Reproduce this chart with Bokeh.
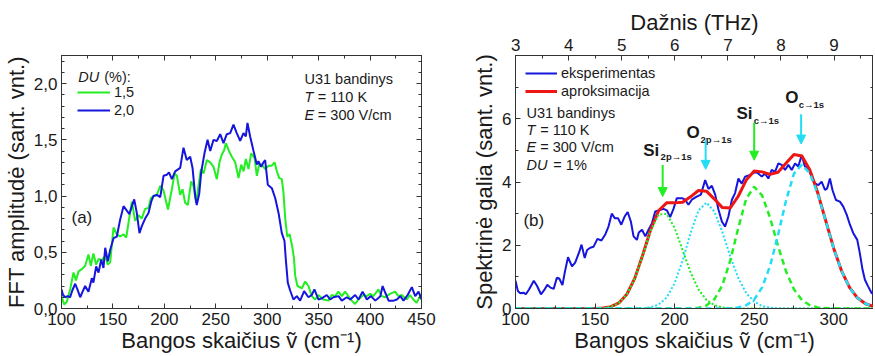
from bokeh.plotting import figure
from bokeh.models import (Range1d, LinearAxis, FixedTicker, Label, Arrow, NormalHead,
                          Legend, LegendItem, CustomJSTickFormatter)
from bokeh.layouts import row
from bokeh.embed import file_html
from bokeh.resources import INLINE

# ---------------- data: panel (a) ----------------
du15_x = [100, 102.6, 105.2, 108.4, 111.7, 114, 116.6, 119.8, 123, 126.2,
          128.5, 131, 133.7, 136, 139.2, 142.5, 145, 147.3, 150.6, 153.8,
          157, 160.3, 162.9, 165.1, 168.4, 171.6, 174.8, 178, 181.3, 184.6,
          186.8, 189.4, 192.7, 196, 199.2, 203.5, 207.3, 209.9, 212.2, 215.4,
          217.7, 220.2, 222.8, 226.1, 228.3, 230.9, 233.2, 235.5, 238.1, 241.3,
          244.6, 247.8, 251, 253.6, 255.9, 258.2, 259.8, 262.4, 265.6, 268.9,
          272.1, 274.7, 277, 279.2, 281.8, 284.4, 287.7, 289.9, 292.2, 294.8,
          298, 301.3, 304.5, 307.1, 309.4, 311.7, 314.2, 315.8, 317.5, 319.5,
          321.8, 324.3, 326, 327.2, 329.4, 333.7, 336.9, 340.1, 343.3, 346.6,
          349.8, 354.6, 359.5, 362.7, 366, 369.2, 372.5, 375.7, 378.9, 382.2,
          385.4, 388.7, 393.5, 396.7, 400, 403.2, 408.1, 411.3, 414.5, 419.4,
          424.3, 427.5, 430.8, 435.6, 438.8, 442.1, 445.3, 448.6, 450]
du15_y = [0.11, 0.035, 0.06, 0.17, 0.32, 0.25, 0.33, 0.35, 0.38, 0.48,
          0.38, 0.49, 0.39, 0.44, 0.43, 0.47, 0.39, 0.41, 0.72, 0.66,
          0.64, 0.66, 0.63, 0.76, 0.95, 0.78, 0.83, 0.80, 0.886, 0.895,
          0.98, 1.0, 1.01, 1.09, 1.05, 0.88, 1.06, 1.2, 1.18, 1.01,
          1.06, 0.94, 0.92, 1.13, 1.09, 0.94, 1.09, 1.24, 1.2, 1.32,
          1.30, 1.26, 1.15, 1.30, 1.37, 1.41, 1.47, 1.41, 1.35, 1.30,
          1.16, 1.28, 1.22, 1.33, 1.24, 1.38, 1.34, 1.18, 1.28, 1.28,
          1.24, 1.27, 1.27, 1.30, 1.22, 1.16, 1.15, 1.03, 0.80, 0.64,
          0.66, 0.55, 0.45, 0.29, 0.20, 0.18, 0.24, 0.20, 0.11, 0.08,
          0.12, 0.08, 0.07, 0.12, 0.11, 0.15, 0.11, 0.15, 0.11, 0.07,
          0.04, 0.08, 0.12, 0.11, 0.13, 0.11, 0.17, 0.11, 0.10, 0.13,
          0.15, 0.11, 0.12, 0.08, 0.12, 0.08, 0.05, 0.11, 0.13]

du20_x = [100, 101.5, 103.6, 106, 108.4, 110.5, 113.3, 115.5, 118.2, 120.5,
          123, 126.2, 129.5, 131, 133.7, 136, 138.6, 140.8, 142.5, 145,
          147.3, 150.6, 153.8, 157, 160.3, 163.5, 166, 168.4, 170.7, 173.2,
          175.8, 178, 181.3, 184.6, 187.2, 189.4, 192.7, 196, 199.2, 202.5,
          204.5, 207.3, 210.5, 215.4, 218.6, 221.8, 225.1, 227.4, 230,
          231.5, 233.9, 235.8, 239, 242, 244.6, 247.8, 251, 254.3, 257.5,
          260.7, 264, 267.2, 270.4, 273.7, 276.9, 279.2, 280.8, 283.4, 286.7,
          289.9, 291.5, 294.1, 296.4, 298, 300.6, 304.5, 307.8, 311, 314.2,
          316.8, 318.1, 320, 322.3, 325.5, 328.8, 332, 335.9, 340.1, 343.3,
          345.9, 349.8, 353, 357.9, 361.2, 364.4, 369.3, 372.5, 377.4, 380.7,
          385.5, 388.8, 392.7, 396.9, 400.8, 405.1, 410, 412.2, 414.8, 418,
          422.9, 426.1, 429.4, 432.5, 436.5, 440.6, 443.9, 447.1, 450]
du20_y = [0.17, 0.12, 0.10, 0.11, 0.10, 0.16, 0.22, 0.17, 0.10, 0.15,
          0.20, 0.15, 0.27, 0.23, 0.375, 0.32, 0.435, 0.36, 0.54, 0.42,
          0.52, 0.625, 0.64, 0.79, 0.91, 0.87, 0.84, 0.91, 0.97, 0.85,
          0.67, 0.73, 0.80, 0.85, 0.95, 1.0, 1.01, 0.99, 1.18, 1.19,
          1.21, 1.15, 1.22, 1.25, 1.43, 1.32, 1.35, 1.25, 1.0,
          0.92, 1.02, 1.21, 1.38, 1.50, 1.40, 1.50, 1.49, 1.55, 1.47,
          1.55, 1.56, 1.635, 1.56, 1.49, 1.56, 1.53, 1.65, 1.53, 1.40,
          1.28, 1.31, 1.26, 1.30, 1.32, 1.10, 1.07, 0.98, 0.85, 0.67,
          0.60, 0.435, 0.23, 0.16, 0.08, 0.11, 0.07, 0.154, 0.10, 0.12,
          0.17, 0.08, 0.09, 0.12, 0.08, 0.10, 0.11, 0.07, 0.10, 0.08,
          0.12, 0.08, 0.15, 0.08, 0.11, 0.07, 0.11, 0.20, 0.14, 0.07,
          0.07, 0.08, 0.11, 0.07, 0.12, 0.19, 0.11, 0.15, 0.08]

a_x_ticks = [100, 150, 200, 250, 300, 350, 400, 450]
a_x_minor = [125, 175, 225, 275, 325, 375, 425]
a_y_ticks = [0.0, 0.5, 1.0, 1.5, 2.0]
a_y_minor = [0.1, 0.2, 0.3, 0.4, 0.6, 0.7, 0.8, 0.9, 1.1, 1.2, 1.3, 1.4,
             1.6, 1.7, 1.8, 1.9, 2.1, 2.2]

# ---------------- data: panel (b) ----------------
exp_x = [100, 101.5, 103, 105, 106.5, 108.5, 111.5, 113.5, 116, 118,
         120, 122, 124, 126, 127.5, 129.5, 131, 133, 135.5, 137.5,
         140, 141.5, 143.5, 145, 147, 149, 151.5, 154, 156.5, 158.5,
         160.5, 162.5, 164.5, 166.5, 168.5, 170.5, 172.5, 174.2, 176.3, 177.5,
         179.5, 181.6, 183.6, 185.8, 187.8, 189.9, 193, 195.2, 197.2, 199.3,
         201.4, 204.6, 206.6, 208.7, 210.8, 213.9, 216.5, 219.2, 221.3, 223.4,
         225.5, 227.6, 229.7, 231.7, 233.8, 236, 238, 240.1, 242.2, 244.3,
         247.4, 250.6, 252.6, 254.8, 256.8, 258.9, 261, 263.1, 265.2, 267.3,
         269.4, 271.5, 273.6, 275.7, 277.7, 279.9, 281.9, 284, 286.1, 288.2,
         290.3, 292.4, 294.5, 295.9, 297.6, 299.3, 301.4, 303.9, 306, 308.2,
         310.2, 312.3, 314.8, 316.4, 318.1, 319.6, 321.6, 323.8, 325]
exp_y = [0.88, 0.55, 0.48, 0.50, 0.45, 0.60, 0.88, 0.72, 0.45, 0.58,
         0.75, 0.66, 0.62, 0.97, 0.95, 0.74, 1.15, 1.62, 1.33, 1.45,
         1.78, 2.02, 1.60, 1.85, 1.92, 1.95, 2.20, 2.15, 2.35, 2.60,
         3.0, 2.85, 2.85, 2.65, 2.90, 3.05, 2.75, 2.28, 2.17, 2.40,
         2.49, 2.28, 2.49, 2.70, 3.07, 3.10, 3.15, 3.10, 2.89, 3.15,
         3.49, 3.49, 3.44, 3.28, 3.44, 3.54, 3.60, 4.06, 3.78, 3.88,
         3.60, 3.12, 2.75, 2.59, 2.91, 3.44, 3.65, 4.11, 3.95, 4.17,
         4.22, 4.32, 4.27, 4.17, 4.27, 4.11, 4.38, 4.32, 4.59, 4.54,
         4.38, 4.54, 4.38, 4.59, 4.49, 4.85, 4.49, 4.43, 4.17, 3.96,
         3.90, 4.01, 3.75, 3.80, 4.11, 3.73, 3.43, 3.38, 3.22, 2.96,
         2.65, 2.38, 2.17, 1.75, 1.23, 0.91, 0.70, 0.49, 0.45]

# fit curves, read every 5 cm-1 from 100 to 325
fit_x = [100, 105, 110, 115, 120, 125, 130, 135, 140, 145,
         150, 155, 160, 165, 170, 175, 180, 185, 190, 195,
         200, 205, 210, 215, 220, 225, 230, 235, 240, 245,
         250, 255, 260, 265, 270, 275, 280, 285, 290, 295,
         300, 305, 310, 315, 320, 325]
fit_y = [0, 0, 0, 0, 0, 0, 0, 0, 0, 0,
         0.003, 0.015, 0.056, 0.175, 0.45, 0.96, 1.70, 2.50, 3.10, 3.34,
         3.34, 3.36, 3.53, 3.73, 3.71, 3.46, 3.19, 3.18, 3.55, 4.06,
         4.35, 4.32, 4.24, 4.31, 4.59, 4.87, 4.82, 4.38, 3.65, 2.77,
         1.90, 1.18, 0.66, 0.33, 0.15, 0.06]
si_2p_y = [0, 0, 0, 0, 0, 0, 0, 0, 0, 0,
           0.003, 0.015, 0.056, 0.175, 0.45, 0.958, 1.69, 2.465, 2.979, 2.99,
           2.548, 1.85, 1.145, 0.604, 0.271, 0.104, 0.034, 0.009, 0.002, 0,
           0, 0, 0, 0, 0, 0, 0, 0, 0, 0,
           0, 0, 0, 0, 0, 0]
o_2p_y = [0, 0, 0, 0, 0, 0, 0, 0, 0, 0,
          0, 0, 0, 0, 0, 0.002, 0.009, 0.037, 0.125, 0.346,
          0.796, 1.513, 2.382, 3.103, 3.347, 3.063, 2.418, 1.645, 0.966, 0.489,
          0.214, 0.080, 0.026, 0.007, 0.002, 0, 0, 0, 0, 0,
          0, 0, 0, 0, 0, 0]
si_c_y = [0, 0, 0, 0, 0, 0, 0, 0, 0, 0,
          0, 0, 0, 0, 0, 0, 0, 0, 0, 0,
          0, 0.001, 0.005, 0.024, 0.094, 0.291, 0.737, 1.519, 2.547, 3.472,
          3.85, 3.575, 2.864, 1.979, 1.179, 0.606, 0.269, 0.103, 0.034, 0.010,
          0.002, 0, 0, 0, 0, 0]
o_c_y = [0, 0, 0, 0, 0, 0, 0, 0, 0, 0,
         0, 0, 0, 0, 0, 0, 0, 0, 0, 0,
         0, 0, 0, 0, 0, 0, 0.002, 0.008, 0.031, 0.101,
         0.281, 0.667, 1.348, 2.322, 3.409, 4.265, 4.55, 4.272, 3.618, 2.76,
         1.897, 1.176, 0.657, 0.330, 0.150, 0.061]

peak_main = ["Si", "O", "Si", "O"]
peak_sub = ["2p\u21921s", "2p\u21921s", "c\u21921s", "c\u21921s"]
peak_pos = [192.5, 219.5, 250.0, 279.5]

b_x_ticks = [100, 150, 200, 250, 300]
b_x_minor = [125, 175, 225, 275, 325]
b_y_ticks = [0, 2, 4, 6]
b_y_minor = [1, 3, 5, 7]
thz_ticks = [3, 4, 5, 6, 7, 8, 9]
thz_minor = [3.5, 4.5, 5.5, 6.5, 7.5, 8.5, 9.5]
CM_PER_THZ = 33.356

X_LABEL = "Bangos skaičius ṽ (cm⁻¹)"

# ---------------- styling ----------------
FONT = "Liberation Sans"
TXT = "#1a1a1a"
BLUE = "#1515dd"
GREEN = "#22ee22"
RED = "#ee1515"
CYAN = "#22ddf5"


def style_axis(ax, size="17px"):
    ax.major_tick_in = 5
    ax.major_tick_out = 0
    ax.minor_tick_in = 3
    ax.minor_tick_out = 0
    ax.axis_line_color = "#333333"
    ax.major_tick_line_color = "#333333"
    ax.minor_tick_line_color = "#333333"
    ax.major_label_text_font = FONT
    ax.major_label_text_font_size = size
    ax.major_label_text_color = TXT
    ax.axis_label_text_font = FONT
    ax.axis_label_text_font_size = "22px"
    ax.axis_label_text_font_style = "normal"
    ax.axis_label_text_color = TXT


blank_fmt = CustomJSTickFormatter(code="return '';")


def mirror_axis(ticker):
    ax = LinearAxis(ticker=ticker, formatter=blank_fmt)
    style_axis(ax, "2px")
    ax.major_label_standoff = 0
    return ax


def lab(p, x, y, text, size="14.5px", style="normal", color=TXT):
    p.add_layout(Label(x=x, y=y, text=text, text_font=FONT, text_font_size=size,
                       text_font_style=style, text_color=color,
                       text_baseline="middle", text_align="left"))


comma_fmt = CustomJSTickFormatter(code="return tick.toFixed(1).replace('.', ',');")

TOP = 55

# ---------------- panel (a) ----------------
p1 = figure(frame_width=360, frame_height=253, x_range=Range1d(100, 450),
            y_range=Range1d(0, 2.25), output_backend="svg", toolbar_location=None,
            min_border_left=55, min_border_right=17, min_border_top=TOP,
            min_border_bottom=0)
p1.grid.visible = False
p1.outline_line_color = "#333333"
xa = p1.xaxis[0]
xa.ticker = FixedTicker(ticks=a_x_ticks, minor_ticks=a_x_minor)
style_axis(xa)
xa.major_label_standoff = 4
xa.axis_label_standoff = 0
xa.axis_label = X_LABEL
ya = p1.yaxis[0]
ya.ticker = FixedTicker(ticks=a_y_ticks, minor_ticks=a_y_minor)
ya.formatter = comma_fmt
style_axis(ya)
ya.major_label_standoff = 4
ya.axis_label_standoff = 2
ya.axis_label = "FFT amplitudė (sant. vnt.)"
p1.add_layout(mirror_axis(FixedTicker(ticks=a_x_ticks, minor_ticks=a_x_minor)), "above")
p1.add_layout(mirror_axis(FixedTicker(ticks=a_y_ticks, minor_ticks=a_y_minor)), "right")

r15 = p1.line(du15_x, du15_y, line_color=GREEN, line_width=2)
r20 = p1.line(du20_x, du20_y, line_color=BLUE, line_width=2)

leg1 = Legend(items=[LegendItem(label="1,5", renderers=[r15]),
                     LegendItem(label="2,0", renderers=[r20])],
              location=(16, 189), background_fill_alpha=0, border_line_alpha=0,
              padding=0, margin=0, spacing=0, glyph_width=33, glyph_height=18,
              label_height=18, label_standoff=4, label_text_font=FONT,
              label_text_font_size="14.5px", label_text_color=TXT)
p1.add_layout(leg1)
lab(p1, 116.3, 2.06, "DU", style="italic")
lab(p1, 141.5, 2.06, "(%):")
lab(p1, 336.2, 2.04, "U31 bandinys")
lab(p1, 336.2, 1.88, "T", style="italic")
lab(p1, 349.2, 1.88, "= 110 K")
lab(p1, 336.2, 1.72, "E", style="italic")
lab(p1, 349.2, 1.72, "= 300 V/cm")
lab(p1, 109.7, 0.81, "(a)", size="17px")

# ---------------- panel (b) ----------------
p2 = figure(frame_width=358, frame_height=253, x_range=Range1d(100, 325),
            y_range=Range1d(0, 8), output_backend="svg", toolbar_location=None,
            min_border_left=77, min_border_right=0, min_border_top=TOP,
            min_border_bottom=0)
p2.extra_x_ranges = {"thz": Range1d(100 / CM_PER_THZ, 325 / CM_PER_THZ)}
p2.grid.visible = False
p2.outline_line_color = "#333333"
xb = p2.xaxis[0]
xb.ticker = FixedTicker(ticks=b_x_ticks, minor_ticks=b_x_minor)
style_axis(xb)
xb.major_label_standoff = 4
xb.axis_label_standoff = 0
xb.axis_label = X_LABEL
yb = p2.yaxis[0]
yb.ticker = FixedTicker(ticks=b_y_ticks, minor_ticks=b_y_minor)
style_axis(yb)
yb.major_label_standoff = 4
yb.axis_label_standoff = 2
yb.axis_label = "Spektrinė galia (sant. vnt.)"
top = LinearAxis(x_range_name="thz",
                 ticker=FixedTicker(ticks=thz_ticks, minor_ticks=thz_minor),
                 axis_label="Dažnis (THz)")
style_axis(top)
top.major_label_standoff = 5
top.axis_label_standoff = 1
p2.add_layout(top, "above")
p2.add_layout(mirror_axis(FixedTicker(ticks=b_y_ticks, minor_ticks=b_y_minor)), "right")

rexp = p2.line(exp_x, exp_y, line_color=BLUE, line_width=2)
rfit = p2.line(fit_x, fit_y, line_color=RED, line_width=3)
p2.line(fit_x, si_2p_y, line_color=GREEN, line_width=2, line_dash="2 2")
p2.line(fit_x, o_2p_y, line_color=CYAN, line_width=2, line_dash="2 2")
p2.line(fit_x, si_c_y, line_color=GREEN, line_width=2.5, line_dash="6 4")
p2.line(fit_x, o_c_y, line_color=CYAN, line_width=2.5, line_dash="6 4")

leg2 = Legend(items=[LegendItem(label="eksperimentas", renderers=[rexp]),
                     LegendItem(label="aproksimacija", renderers=[rfit])],
              location=(10, 208), background_fill_alpha=0, border_line_alpha=0,
              padding=0, margin=0, spacing=0, glyph_width=32, glyph_height=18,
              label_height=18, label_standoff=4, label_text_font=FONT,
              label_text_font_size="14.5px", label_text_color=TXT)
p2.add_layout(leg2)

lab(p2, 106.9, 6.17, "U31 bandinys")
lab(p2, 106.9, 5.64, "T", style="italic")
lab(p2, 115.5, 5.64, "= 110 K")
lab(p2, 106.9, 5.10, "E", style="italic")
lab(p2, 115.5, 5.10, "= 300 V/cm")
lab(p2, 106.9, 4.54, "DU", style="italic")
lab(p2, 123.8, 4.54, "= 1%")
lab(p2, 105.0, 2.78, "(b)", size="17px")

# peak labels and arrows
main_xy = [(180.3, 5.00), (207.5, 5.55), (238.9, 6.16), (269.6, 6.66)]
sub_xy = [(191.2, 4.80), (216.3, 5.33), (249.7, 5.93), (278.0, 6.44)]
arrow_y = [(4.54, 3.54), (5.32, 4.40), (5.87, 4.69), (6.14, 5.20)]
arrow_col = [GREEN, CYAN, GREEN, CYAN]
for i in range(4):
    lab(p2, main_xy[i][0], main_xy[i][1], peak_main[i], size="17px", style="bold")
    lab(p2, sub_xy[i][0], sub_xy[i][1], peak_sub[i], size="9.5px", style="bold")
    c = arrow_col[i]
    p2.add_layout(Arrow(end=NormalHead(size=9, fill_color=c, line_color=c, line_width=1),
                        x_start=peak_pos[i], y_start=arrow_y[i][0],
                        x_end=peak_pos[i], y_end=arrow_y[i][1],
                        line_color=c, line_width=2))

layout = row(p1, p2)
open("out.html", "w").write(file_html(layout, INLINE))
